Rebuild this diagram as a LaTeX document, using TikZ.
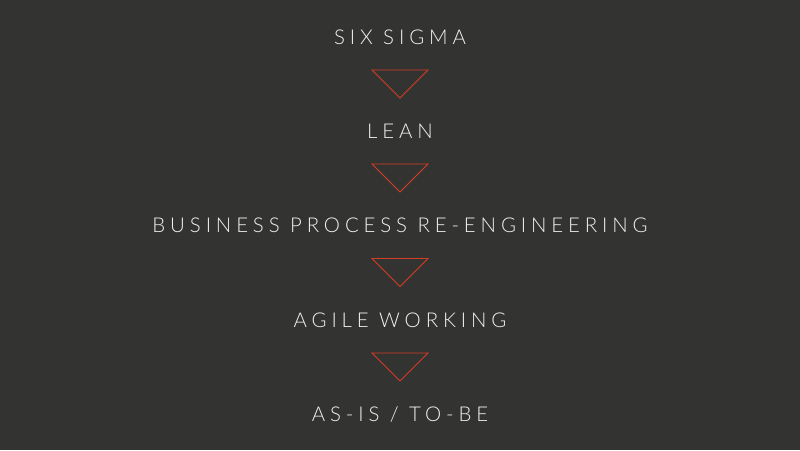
\documentclass[tikz,border=0pt]{standalone}
\usepackage{fontspec}
\setmainfont{Lato}[UprightFont=* Light]
\usepackage{tikz}
\usetikzlibrary{calc}
\definecolor{bg}{HTML}{333331}
\definecolor{arrowred}{HTML}{D63C26}
\definecolor{txt}{HTML}{F2F2F2}

\begin{document}
\begin{tikzpicture}[x=0.025cm,y=-0.025cm,
    label/.style={text=txt,font=\fontsize{14.5}{14.5}\selectfont\addfontfeatures{LetterSpace=24},inner sep=0pt},
    tri/.style={draw=arrowred,line width=0.6pt,line join=miter}]
            \fill[bg] (0,0) rectangle (800,450);
            \useasboundingbox (0,0) rectangle (800,450);

            \node[label] (sixsigma) at (400,37) {SIX SIGMA};
            \node[label] (lean) at (400,131) {LEAN};
            \node[label] (bpr) at (400,225) {BUSINESS PROCESS RE-ENGINEERING};
            \node[label] (agile) at (400,320) {AGILE WORKING};
            \node[label] (asis) at (400,414) {AS-IS / TO-BE};

            % triangles between the steps
            \foreach \a/\b in {sixsigma/lean,lean/bpr,bpr/agile,agile/asis}
                \draw[tri] ($(\a)!0.5!(\b)$) ++(-28,-14) -- ++(56,0) -- ++(-28,28) -- cycle;
        \end{tikzpicture}
\end{document}
